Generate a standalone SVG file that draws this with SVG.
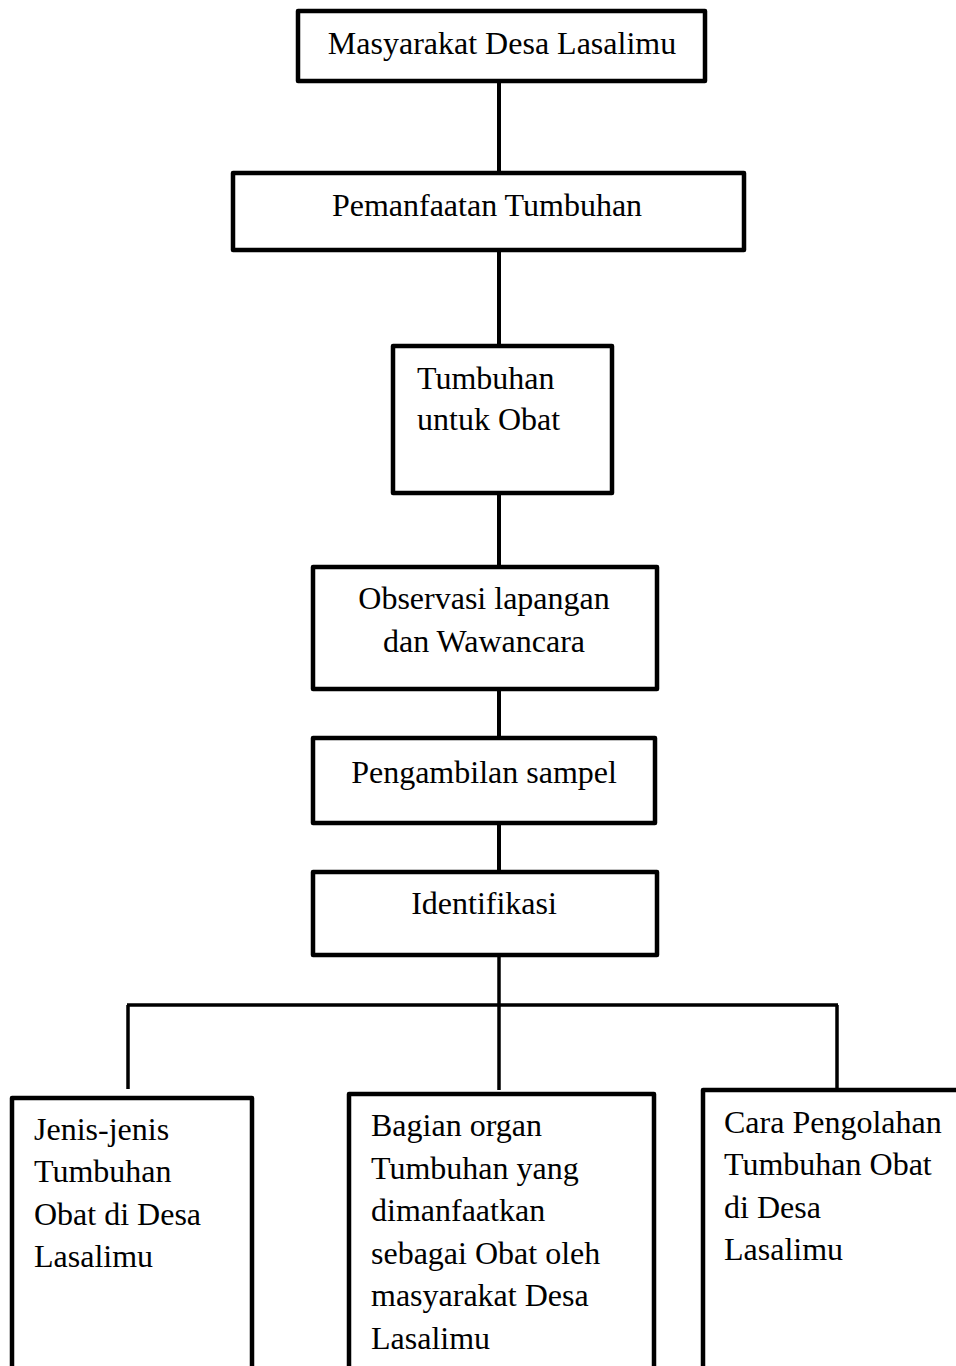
<svg xmlns="http://www.w3.org/2000/svg" width="956" height="1366" viewBox="0 0 956 1366">
<style>
.box{fill:#fff;stroke:#000;stroke-width:4.5;stroke-linejoin:round}
.t{font-family:"Liberation Serif","Times New Roman",serif;font-size:32px;fill:#000}
.c{text-anchor:middle}
.ln{stroke:#000;stroke-width:4;fill:none}
.ln2{stroke:#000;stroke-width:3.5;fill:none}
</style>
<rect width="956" height="1366" fill="#fff"/>
<g id="connectors">
<line class="ln" x1="499" y1="81" x2="499" y2="173"/>
<line class="ln" x1="499" y1="250" x2="499" y2="346"/>
<line class="ln" x1="499" y1="493" x2="499" y2="567"/>
<line class="ln" x1="499" y1="689" x2="499" y2="738"/>
<line class="ln" x1="499" y1="823" x2="499" y2="872"/>
<line class="ln2" x1="499" y1="955" x2="499" y2="1090"/>
<line class="ln2" x1="127" y1="1005" x2="838" y2="1005"/>
<line class="ln2" x1="128" y1="1005" x2="128" y2="1089"/>
<line class="ln2" x1="837" y1="1005" x2="837" y2="1090"/>
</g>
<g id="n1">
<rect class="box" x="298" y="11" width="407" height="70"/>
<text class="t c" x="502" y="54">Masyarakat Desa Lasalimu</text>
</g>
<g id="n2">
<rect class="box" x="233" y="173" width="511" height="77"/>
<text class="t c" x="487" y="216">Pemanfaatan Tumbuhan</text>
</g>
<g id="n3">
<rect class="box" x="393" y="346" width="219" height="147"/>
<text class="t" x="417" y="389">Tumbuhan</text>
<text class="t" x="417" y="430">untuk Obat</text>
</g>
<g id="n4">
<rect class="box" x="313" y="567" width="344" height="122"/>
<text class="t c" x="484" y="609">Observasi lapangan</text>
<text class="t c" x="484" y="652">dan Wawancara</text>
</g>
<g id="n5">
<rect class="box" x="313" y="738" width="342" height="85"/>
<text class="t c" x="484" y="783">Pengambilan sampel</text>
</g>
<g id="n6">
<rect class="box" x="313" y="872" width="344" height="83"/>
<text class="t c" x="484" y="914">Identifikasi</text>
</g>
<g id="n7">
<rect class="box" x="12" y="1098" width="240" height="300"/>
<text class="t" x="34" y="1140">Jenis-jenis</text>
<text class="t" x="34" y="1182">Tumbuhan</text>
<text class="t" x="34" y="1225">Obat di Desa</text>
<text class="t" x="34" y="1267">Lasalimu</text>
</g>
<g id="n8">
<rect class="box" x="349" y="1094" width="305" height="300"/>
<text class="t" x="371" y="1136">Bagian organ</text>
<text class="t" x="371" y="1179">Tumbuhan yang</text>
<text class="t" x="371" y="1221">dimanfaatkan</text>
<text class="t" x="371" y="1264">sebagai Obat oleh</text>
<text class="t" x="371" y="1306">masyarakat Desa</text>
<text class="t" x="371" y="1349">Lasalimu</text>
</g>
<g id="n9">
<rect class="box" x="703" y="1090" width="300" height="310"/>
<text class="t" x="724" y="1133">Cara Pengolahan</text>
<text class="t" x="724" y="1175">Tumbuhan Obat</text>
<text class="t" x="724" y="1218">di Desa</text>
<text class="t" x="724" y="1260">Lasalimu</text>
</g>
</svg>
